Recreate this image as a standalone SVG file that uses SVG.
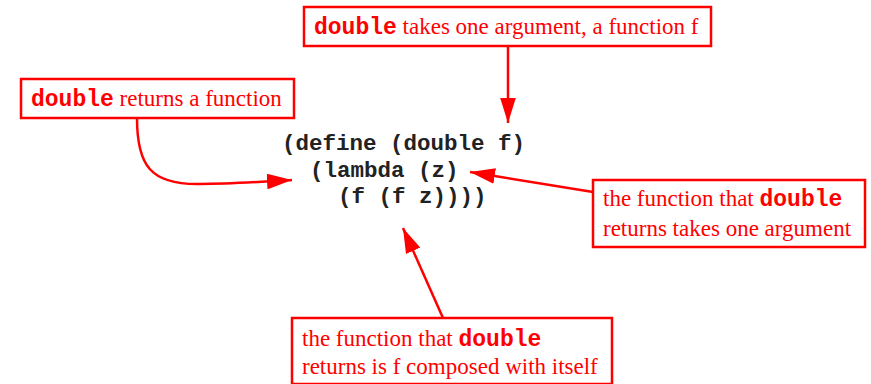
<svg xmlns="http://www.w3.org/2000/svg" width="871" height="384" viewBox="0 0 871 384">
<style>
.box{fill:#fff;stroke:#f00;stroke-width:2.5}
.t{font-family:"Liberation Serif",serif;font-size:23px;fill:#f00}
.m{font-family:"Liberation Mono",monospace;font-weight:bold;font-size:23px;fill:#f00}
.code{font-family:"Liberation Mono",monospace;font-weight:bold;font-size:22.5px;fill:#222}
.c{fill:none;stroke:#f00;stroke-width:2.5}
</style>
<defs>
<marker id="ah" viewBox="0 0 16 10" refX="16" refY="5" markerWidth="10" markerHeight="6.25" markerUnits="strokeWidth" orient="auto">
<path d="M0,0 L16,5 L0,10 z" fill="#f00"/>
</marker>
</defs>
<rect width="871" height="384" fill="#fff"/>
<g id="connectors">
<path class="c" d="M508,47 L508,123" marker-end="url(#ah)"/>
<path class="c" d="M137,118 C137,165 150,185 200,184 C230,184 260,182 292,180" marker-end="url(#ah)"/>
<path class="c" d="M593,192 L470,172" marker-end="url(#ah)"/>
<path class="c" d="M443,318 L403,228" marker-end="url(#ah)"/>
</g>
<g id="code">
<text class="code" x="282" y="150" xml:space="preserve">(define (double f)</text>
<text class="code" x="310" y="177" xml:space="preserve">(lambda (z)</text>
<text class="code" x="338" y="203" xml:space="preserve">(f (f z))))</text>
</g>
<g id="n1">
<rect class="box" x="304" y="7" width="407" height="39"/>
<text x="314" y="34"><tspan class="m">double</tspan><tspan class="t"> takes one argument, a function f</tspan></text>
</g>
<g id="n2">
<rect class="box" x="21" y="79" width="273" height="39"/>
<text x="31" y="106"><tspan class="m">double</tspan><tspan class="t"> returns a function</tspan></text>
</g>
<g id="n3">
<rect class="box" x="593" y="180" width="272" height="67"/>
<text x="603" y="206"><tspan class="t">the function that </tspan><tspan class="m">double</tspan></text>
<text class="t" x="603" y="236">returns takes one argument</text>
</g>
<g id="n4">
<rect class="box" x="292" y="318" width="320" height="66"/>
<text x="302" y="346"><tspan class="t">the function that </tspan><tspan class="m">double</tspan></text>
<text class="t" x="302" y="374">returns is f composed with itself</text>
</g>
</svg>
